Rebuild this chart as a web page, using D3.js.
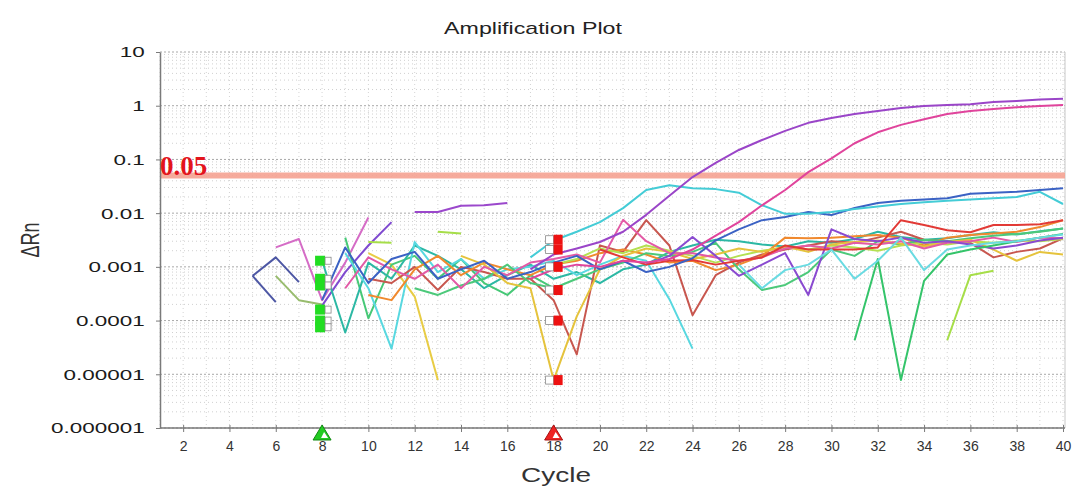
<!DOCTYPE html>
<html lang="en">
<head>
  <meta charset="UTF-8" />
  <script src="https://d3js.org/d3.v7.min.js"></script>
  <title>Amplification Plot</title>
  <style>
    body { margin: 0; background: #fff; }
    text { font-family: "Liberation Sans", Arial, sans-serif; }
  </style>
</head>
<body>
  <svg width="1076" height="495"></svg>

  <script>
    const width = 1076;
    const height = 495;

    // cycles and tick labels
    const cycles = [1,2,3,4,5,6,7,8,9,10,11,12,13,14,15,16,17,18,19,20,
                    21,22,23,24,25,26,27,28,29,30,31,32,33,34,35,36,37,38,39,40];
    const xTicks = [2,4,6,8,10,12,14,16,18,20,22,24,26,28,30,32,34,36,38,40];
    const yTicks = [10, 1, 0.1, 0.01, 0.001, 0.0001, 0.00001, 0.000001];
    const yTickLabels = ["10","1","0.1","0.01","0.001","0.0001","0.00001","0.000001"];

    const threshold = 0.05;

    // baseline start / end markers
    const startCycle = 8;
    const startMarks = [0.0013, 0.0006, 0.00045, 0.00016, 0.0001, 0.000075];
    const endCycle = 18;
    const endMarks = [0.0032, 0.0021, 0.001, 0.00037, 0.0001, 0.0000078];

    // one entry per well: first cycle drawn, then the ΔRn values
    const seriesStart = [5, 5, 6, 6, 8, 12, 10, 13, 10, 9, 8, 9, 10, 10, 12, 18,
                         14, 9, 22, 20, 31, 26, 35, 8, 17, 17, 17];
    const seriesValues = [
      [0.00068, 0.0015, 0.00052],
      [0.00068, 0.00022],
      [0.00068, 0.00024, 0.0002],
      [0.0023, 0.0033, 0.00024, 0.0012, 0.0083],
      [0.00019, 0.0008, 0.0025, 0.0068],
      [0.0105, 0.0105, 0.0137, 0.014, 0.0155],
      [0.0029, 0.0028],
      [0.0045, 0.0042],
      [0.0018, 0.0011, 0.00028, 0.0000078],
      [0.0035, 0.00011, 0.0011, 0.0016, 0.0006, 0.0014, 0.0005, 0.0003, 0.0007, 0.0004],
      [0.0013, 0.00006, 0.0012, 0.0006, 0.0025, 0.0016, 0.0009, 0.0004, 0.0007, 0.0011,
       0.0006, 0.0008, 0.0005, 0.0009, 0.0011, 0.0019, 0.0025, 0.0032, 0.0030, 0.0026,
       0.0024, 0.0030, 0.0028, 0.0033, 0.0045, 0.0036, 0.0032, 0.0034, 0.0039, 0.0044,
       0.0040, 0.0046, 0.0052],
      [0.0018, 0.0004, 0.00003, 0.0029, 0.0008, 0.0014, 0.0006, 0.0009, 0.0010, 0.0013,
       0.0007, 0.0011, 0.0016, 0.0013, 0.00025, 0.00003],
      [0.0006, 0.0005, 0.001, 0.00037, 0.0010, 0.0008, 0.0006, 0.0006, 0.00024, 0.0000235,
       0.0025, 0.0019, 0.0074, 0.0025, 0.000126, 0.0007, 0.0012, 0.0017, 0.0021, 0.0025,
       0.0030, 0.0028, 0.0035, 0.0045, 0.0032, 0.0030, 0.0028, 0.0015, 0.0019, 0.0022, 0.0034],
      [0.0003, 0.00024, 0.0009, 0.0016, 0.0007, 0.0012, 0.0009, 0.0007, 0.0011, 0.0013,
       0.0018, 0.0021, 0.0017, 0.0012, 0.0013, 0.00087, 0.0011, 0.0016, 0.0035, 0.0034,
       0.0035, 0.0037, 0.0039, 0.0035, 0.0025, 0.0035, 0.0039, 0.0042, 0.0045, 0.0055, 0.0074],
      [0.0004, 0.0003, 0.00045, 0.0006, 0.0011, 0.0005, 0.0004, 0.0006, 0.0009, 0.0012,
       0.0018, 0.0016, 0.0019, 0.0028, 0.0009, 0.00037, 0.00046, 0.0008, 0.0021, 0.0016,
       0.0030, 0.0026, 0.0032, 0.0030, 0.0034, 0.0038, 0.0041, 0.0045, 0.0052],
      [0.0011, 0.0014, 0.0022, 0.0018, 0.0025, 0.0020, 0.0016, 0.0012, 0.0016, 0.0020,
       0.0023, 0.0021, 0.0025, 0.0023, 0.0020, 0.0025, 0.0028, 0.0026, 0.0030, 0.0028,
       0.0031, 0.0030, 0.0033],
      [0.0016, 0.0011, 0.0005, 0.0004, 0.0000078, 0.00012, 0.0009, 0.0016, 0.0022, 0.0019,
       0.0014, 0.0017, 0.0022, 0.0019, 0.0024, 0.0019, 0.0026, 0.0029, 0.0031, 0.0027,
       0.0024, 0.0029, 0.0032, 0.0021, 0.0013, 0.0019, 0.0017],
      [0.0004, 0.0015, 0.0009, 0.0006, 0.0011, 0.0004, 0.0010, 0.0007, 0.0012, 0.0014,
       0.0017, 0.0012, 0.0075, 0.0030, 0.0018, 0.0018, 0.0015, 0.0013, 0.0015, 0.0022,
       0.0025, 0.0022, 0.0028, 0.0026, 0.0030, 0.0022, 0.0028, 0.0030, 0.0035, 0.0029,
       0.0035, 0.0034],
      [0.0011, 0.0016, 0.0036, 0.0016, 0.00068, 0.0011, 0.0018, 0.0003, 0.0050, 0.0033,
       0.0030, 0.0035, 0.0028, 0.0030, 0.0026, 0.0022, 0.0025, 0.0031, 0.0035],
      [0.0021, 0.0015, 0.0011, 0.0013, 0.00134, 0.0011, 0.0013, 0.0015, 0.0025, 0.0021,
       0.0021, 0.0021, 0.0023, 0.0074, 0.0060, 0.0048, 0.0044, 0.0060, 0.0060, 0.0062, 0.0074],
      [0.000043, 0.0014, 0.0000078, 0.00055, 0.0017, 0.0021, 0.0025, 0.0030, 0.0035, 0.0041],
      [0.0011, 0.0004, 0.00087, 0.0011, 0.0021, 0.0006, 0.0013, 0.0035, 0.00087, 0.0021,
       0.0025, 0.0028, 0.0030, 0.0035, 0.0040],
      [0.000043, 0.0007, 0.00085],
      [0.00024, 0.0023, 0.0005, 0.0014, 0.0019, 0.0006, 0.0009, 0.0013, 0.0006, 0.0008,
       0.0012, 0.0016, 0.0009, 0.0013, 0.0008, 0.0010, 0.00145, 0.0031, 0.0050, 0.0074,
       0.0085, 0.0105, 0.0092, 0.0125, 0.0155, 0.017, 0.018, 0.019, 0.023, 0.024,
       0.025, 0.027, 0.029],
      [0.0015, 0.0031, 0.0045, 0.0068, 0.0124, 0.027, 0.033, 0.029, 0.028, 0.024,
       0.014, 0.0097, 0.0097, 0.0105, 0.012, 0.0133, 0.0148, 0.016, 0.017, 0.018,
       0.019, 0.020, 0.025, 0.0148],
      [0.0006, 0.0009, 0.0011, 0.0010, 0.0013, 0.0012, 0.0014, 0.0021, 0.0038, 0.0068,
       0.014, 0.027, 0.058, 0.105, 0.20, 0.32, 0.44, 0.56, 0.70, 0.80,
       0.87, 0.94, 0.99, 1.03],
      [0.0009, 0.0017, 0.0022, 0.0029, 0.0045, 0.0093, 0.021, 0.047, 0.086, 0.15,
       0.23, 0.34, 0.48, 0.59, 0.70, 0.80, 0.91, 0.99, 1.03, 1.07,
       1.17, 1.22, 1.30, 1.35]
    ];
    const seriesColors = ["#4d57a4", "#4d57a4", "#98bc6e", "#d56cc6", "#7f4ad0", "#9b48cc",
                          "#a6de48", "#a6de48", "#e8cc44", "#47c877", "#2cb8a4", "#58d8e0",
                          "#c8574f", "#f0892e", "#4cc97a", "#b4e052", "#e5c33c", "#e35aa6",
                          "#8a4ad0", "#e23a36", "#34c46a", "#6adbe2", "#a6de48", "#3b62c4",
                          "#44ccd6", "#e0449c", "#9a45c8"];

    const svg = d3.select("svg");

    const x = d3.scaleLinear().domain([1, 40]).range([160, 1063]);
    const y = d3.scaleLog().domain([0.000001, 10]).range([428, 52]);

    // grid
    const grid = svg.append("g");
    grid.selectAll("line.v")
      .data(cycles)
      .enter().append("line")
      .attr("x1", d => x(d)).attr("x2", d => x(d))
      .attr("y1", 52).attr("y2", 428)
      .attr("stroke", "#d4d4d4")
      .attr("stroke-dasharray", "1,3");

    grid.selectAll("line.h")
      .data(y.ticks())
      .enter().append("line")
      .attr("x1", 160).attr("x2", 1065)
      .attr("y1", d => y(d)).attr("y2", d => y(d))
      .attr("stroke", d => yTicks.includes(d) ? "#a8a8a8" : "#d0d0d0")
      .attr("stroke-dasharray", d => yTicks.includes(d) ? "2,2" : "1,3");

    // right frame
    svg.append("line")
      .attr("x1", 1065).attr("x2", 1065).attr("y1", 52).attr("y2", 428)
      .attr("stroke", "#c8c8c8");

    // threshold
    svg.append("line")
      .attr("x1", 160).attr("x2", 1065)
      .attr("y1", y(threshold)).attr("y2", y(threshold))
      .attr("stroke", "#f6a392")
      .attr("stroke-width", 6)
      .attr("opacity", 0.9);

    // amplification curves
    const line = d3.line()
      .defined(d => d[1] != null)
      .x(d => x(d[0]))
      .y(d => y(d[1]));

    svg.append("g")
      .selectAll("path")
      .data(seriesValues)
      .enter().append("path")
      .attr("d", (vals, i) => line(vals.map((v, k) => [seriesStart[i] + k, v])))
      .attr("fill", "none")
      .attr("stroke", (d, i) => seriesColors[i])
      .attr("stroke-width", 2)
      .attr("stroke-linejoin", "round");

    // baseline markers
    const marks = svg.append("g");
    startMarks.forEach(v => {
      const cx = x(startCycle), cy = y(v);
      marks.append("rect").attr("x", cx - 7).attr("y", cy - 5).attr("width", 10).attr("height", 10)
        .attr("fill", "#22dd22");
      marks.append("rect").attr("x", cx + 3).attr("y", cy - 3.5).attr("width", 6).attr("height", 7)
        .attr("fill", "#fff").attr("stroke", "#888").attr("stroke-width", 0.8);
    });
    endMarks.forEach(v => {
      const cx = x(endCycle), cy = y(v);
      marks.append("rect").attr("x", cx - 8).attr("y", cy - 4).attr("width", 8).attr("height", 8)
        .attr("fill", "#fff").attr("stroke", "#888").attr("stroke-width", 0.8);
      marks.append("rect").attr("x", cx).attr("y", cy - 5).attr("width", 9).attr("height", 10)
        .attr("fill", "#ee1111");
    });

    // axes
    const xAxis = svg.append("g")
      .attr("transform", "translate(0,428)")
      .call(d3.axisBottom(x).tickValues(xTicks).tickSize(4).tickSizeOuter(0));
    xAxis.select(".domain").attr("stroke", "#7a7a7a").attr("stroke-width", 1.5)
      .attr("d", "M160,0H1065");
    xAxis.selectAll(".tick line").attr("stroke", "#7a7a7a").attr("y1", -3);
    xAxis.selectAll(".tick text")
      .attr("y", 13)
      .attr("fill", "#333")
      .style("font-size", "14px");

    const yAxis = svg.append("g")
      .attr("transform", "translate(160,0)")
      .call(d3.axisLeft(y).tickValues(yTicks).tickSize(4).tickSizeOuter(0)
        .tickFormat((d, i) => yTickLabels[i]));
    yAxis.select(".domain").attr("stroke", "#7a7a7a").attr("stroke-width", 1.5);
    yAxis.selectAll(".tick line").attr("stroke", "#7a7a7a");
    yAxis.selectAll(".tick text")
      .attr("x", -10.5)
      .attr("transform", "scale(1.45,1)")
      .attr("fill", "#1a1a1a")
      .style("font-size", "15.5px");

    // cycle triangles
    [[startCycle, "#22cc22", "#118811"], [endCycle, "#ee2222", "#aa1111"]].forEach(t => {
      const cx = x(t[0]);
      svg.append("path")
        .attr("d", `M${cx},425L${cx + 9},440L${cx - 9},440Z`)
        .attr("fill", t[1]).attr("stroke", t[2]).attr("stroke-width", 1);
      svg.append("path")
        .attr("d", `M${cx + 2},432L${cx + 6},438L${cx - 1},438Z`)
        .attr("fill", "#fff");
    });

    // texts
    svg.append("text")
      .attr("transform", "translate(533,34) scale(1.45,1)")
      .attr("text-anchor", "middle")
      .style("font-size", "16px")
      .attr("fill", "#222")
      .text("Amplification Plot");

    svg.append("text")
      .attr("transform", "translate(556,482) scale(1.4,1)")
      .attr("text-anchor", "middle")
      .style("font-size", "20px")
      .attr("fill", "#333")
      .text("Cycle");

    svg.append("text")
      .attr("transform", "translate(39,240) rotate(-90) scale(1,1.45)")
      .attr("text-anchor", "middle")
      .style("font-size", "18px")
      .attr("fill", "#333")
      .text("ΔRn");

    svg.append("text")
      .attr("x", 160)
      .attr("y", y(threshold) - 1)
      .style("font-family", "'Liberation Serif', 'Times New Roman', serif")
      .style("font-size", "27px")
      .style("font-weight", "bold")
      .attr("fill", "#e3141c")
      .text(threshold.toFixed(2));
  </script>
</body>
</html>
